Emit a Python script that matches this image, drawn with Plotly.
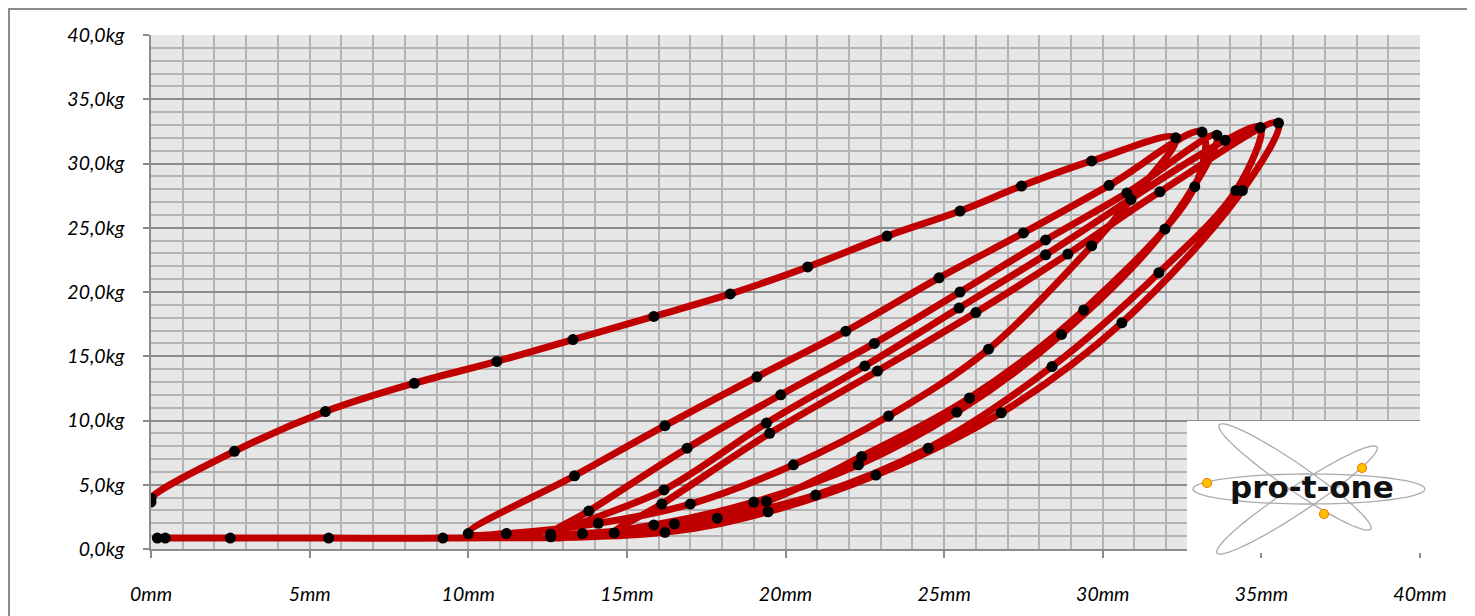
import numpy as np
import plotly.graph_objects as go

# ---- data (displacement in mm, force in kg) ----
c1_disp = [0.0, 0.0, 2.63, 5.5, 8.3, 10.9, 13.3, 15.85, 18.26, 20.7, 23.2, 25.5, 27.44, 29.65, 32.3,
           30.89, 29.65, 26.4, 23.25, 20.25, 17.0, 14.1, 11.2]
c1_force = [3.65, 3.95, 7.6, 10.7, 12.9, 14.6, 16.3, 18.1, 19.85, 21.95, 24.35, 26.3, 28.25, 30.2, 32.0,
            27.2, 23.6, 15.55, 10.35, 6.55, 3.5, 2.0, 1.2]

c2_disp = [10.0, 13.35, 16.2, 19.1, 21.9, 24.84, 27.5, 30.2, 33.13,
           32.9, 29.4, 25.8, 22.4, 19.4, 16.5, 13.6, 12.6]
c2_force = [1.2, 5.7, 9.6, 13.4, 16.95, 21.1, 24.6, 28.3, 32.45,
            28.2, 18.6, 11.75, 7.2, 3.7, 1.95, 1.2, 1.15]

c3_disp = [13.8, 16.9, 19.85, 22.8, 25.5, 28.2, 30.76, 33.6,
           31.96, 28.7, 25.4, 22.3, 19.0, 15.85, 12.6]
c3_force = [2.95, 7.85, 12.0, 16.0, 20.0, 24.05, 27.7, 32.2,
            24.9, 16.7, 10.65, 6.55, 3.65, 1.87, 0.95]

c4_disp = [16.17, 19.4, 22.5, 25.47, 28.2, 33.86, 34.97,
           34.2, 31.77, 28.4, 24.5, 20.95, 17.85, 14.6]
c4_force = [4.6, 9.8, 14.25, 18.75, 22.9, 31.8, 32.8,
            27.9, 21.5, 14.2, 7.85, 4.2, 2.4, 1.25]

c5_disp = [16.1, 19.5, 22.9, 26.0, 28.9, 31.8, 35.54,
           34.4, 30.6, 26.8, 22.85, 19.45, 16.2, 9.2, 5.6, 2.5, 0.45, 0.2]
c5_force = [3.5, 9.0, 13.85, 18.4, 22.95, 27.8, 33.15,
            27.9, 17.6, 10.6, 5.75, 2.9, 1.3, 0.85, 0.85, 0.85, 0.85, 0.85]

x_ticks = [0, 5, 10, 15, 20, 25, 30, 35, 40]
x_labels = ["0mm", "5mm", "10mm", "15mm", "20mm", "25mm", "30mm", "35mm", "40mm"]
y_ticks = [0, 5, 10, 15, 20, 25, 30, 35, 40]
y_labels = ["0,0kg", "5,0kg", "10,0kg", "15,0kg", "20,0kg", "25,0kg", "30,0kg", "35,0kg", "40,0kg"]

disp = c1_disp + c2_disp + c3_disp + c4_disp + c5_disp
force = c1_force + c2_force + c3_force + c4_force + c5_force

# ---- geometry (page body has an 8px offset) ----
W, H = 1475, 616
OFF = 8
ML, MT = 151 - OFF, 35 - OFF
PW, PH = 1269, 514
MR = W - ML - PW
MB = H - MT - PH


def px(x):
    # x given in screen pixels of the reference
    return (x - OFF - ML) / PW


def py(y):
    return (MT + PH - (y - OFF)) / PH


fig = go.Figure()
fig.add_trace(go.Scatter(
    x=disp, y=force, mode="lines+markers",
    line=dict(color="#C00000", width=7, shape="spline", smoothing=1.0),
    marker=dict(color="black", size=11),
    hoverinfo="skip", showlegend=False,
))

shapes = []
# outer chart border
shapes.append(dict(type="rect", xref="paper", yref="paper",
                   x0=px(9), x1=px(1473), y0=py(640), y1=py(9),
                   line=dict(color="#8C8C8C", width=2), fillcolor="rgba(0,0,0,0)", layer="above"))
# logo background
shapes.append(dict(type="rect", xref="paper", yref="paper",
                   x0=px(1187), x1=px(1421), y0=py(553), y1=py(421),
                   line=dict(width=0), fillcolor="white", layer="above"))


def ellipse_path(cx, cy, a, b, ux, uy):
    n = np.hypot(ux, uy)
    ux, uy = ux / n, uy / n
    vx, vy = -uy, ux
    t = np.linspace(0, 2 * np.pi, 90)
    xs = cx + a * np.cos(t) * ux + b * np.sin(t) * vx
    ys = cy + a * np.cos(t) * uy + b * np.sin(t) * vy
    pts = [f"{px(x):.5f},{py(y):.5f}" for x, y in zip(xs, ys)]
    return "M " + " L ".join(pts) + " Z"


for (cx, cy, a, b, ux, uy) in [(1309, 489, 116, 15, 1, 0),
                               (1295, 477, 92, 13, 150, 103),
                               (1297, 500, 96, 13, 160, -106)]:
    shapes.append(dict(type="path", xref="paper", yref="paper",
                       path=ellipse_path(cx, cy, a, b, ux, uy),
                       line=dict(color="#ABABAB", width=1.3), layer="above"))

for (cx, cy) in [(1207, 483), (1362, 468), (1324, 514)]:
    r = 4.5
    shapes.append(dict(type="circle", xref="paper", yref="paper",
                       x0=px(cx - r), x1=px(cx + r), y0=py(cy + r), y1=py(cy - r),
                       fillcolor="#FFC000", line=dict(color="#F07800", width=1.2), layer="above"))

fig.update_layout(
    width=W, height=H,
    margin=dict(l=ML, r=MR, t=MT, b=MB),
    paper_bgcolor="white",
    plot_bgcolor="#E6E6E6",
    shapes=shapes,
    annotations=[dict(xref="paper", yref="paper", x=px(1312), y=py(487),
                      text="<b>pro-t-one</b>", showarrow=False,
                      font=dict(family="DejaVu Sans", size=31, color="#111111"),
                      xanchor="center", yanchor="middle")],
    xaxis=dict(range=[0, 40], tickvals=x_ticks, ticktext=x_labels,
               showgrid=True, gridcolor="#B4B4B4", gridwidth=1.5,
               minor=dict(dtick=1, showgrid=True, gridcolor="#B4B4B4", gridwidth=1.5),
               showline=True, linecolor="#8C8C8C", linewidth=1.5,
               ticks="outside", ticklen=7, tickcolor="#8C8C8C", tickwidth=1.5,
               ticklabelstandoff=20,
               tickfont=dict(family="Lato", size=19.5, color="#000000", style="italic"),
               zeroline=False, fixedrange=True),
    yaxis=dict(range=[0, 40], tickvals=y_ticks, ticktext=y_labels,
               showgrid=True, gridcolor="#8C8C8C", gridwidth=1.5,
               minor=dict(dtick=1, showgrid=True, gridcolor="#B4B4B4", gridwidth=1.5),
               showline=True, linecolor="#8C8C8C", linewidth=1.5,
               ticks="outside", ticklen=6, tickcolor="#8C8C8C", tickwidth=1.5,
               ticklabelstandoff=15,
               tickfont=dict(family="Lato", size=19.5, color="#000000", style="italic"),
               zeroline=False, fixedrange=True),
)

fig.write_html("out.html")
